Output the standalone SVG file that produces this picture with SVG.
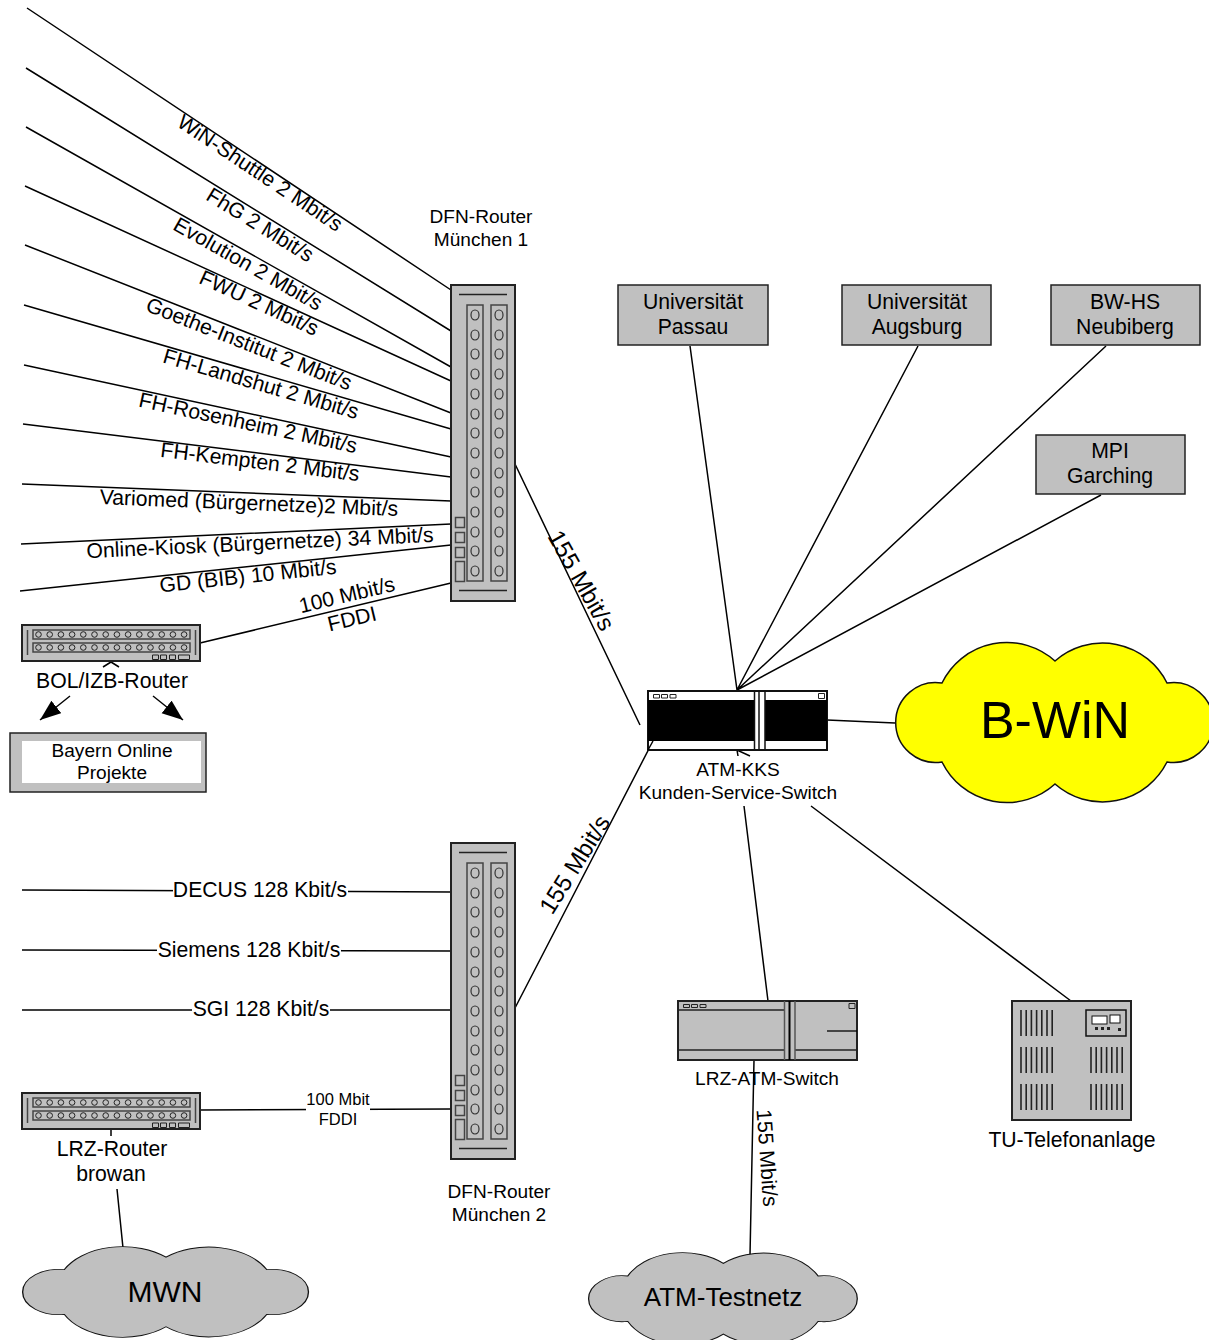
<svg xmlns="http://www.w3.org/2000/svg" xmlns:xlink="http://www.w3.org/1999/xlink" width="1209" height="1340" viewBox="0 0 1209 1340">
<style>
text{font-family:"Liberation Sans",Arial,sans-serif;fill:#000;text-anchor:middle;font-size:21.2px}
.s{font-size:19.100px}
.t{font-size:16.500px}
.ln{stroke:#000;stroke-width:1.500;fill:none}
.box{fill:#c0c0c0;stroke:#222;stroke-width:1.500}
.body{fill:#c0c0c0;stroke:#222;stroke-width:2}
.in{fill:none;stroke:#444;stroke-width:1.500}
.cl{stroke-width:1.500;stroke:#111;vector-effect:non-scaling-stroke}
.hl{fill:#fff;stroke:none}
</style>
<defs>
<marker id="ah" markerUnits="userSpaceOnUse" markerWidth="24" markerHeight="18" refX="21" refY="8" orient="auto"><path d="M0 0L21 8L0 16Z" fill="#000"/></marker>
<path id="cloud" d="M47 40A72 72 0 0 1 160 18A72 72 0 0 1 272 40A40 40 0 1 1 272 119A72 72 0 0 1 160 141A72 72 0 0 1 47 119A40 40 0 1 1 47 40Z"/>
<g id="col"><rect x="16" y="20" width="16" height="276" class="in"/>
<g fill="none" stroke="#333" stroke-width="1.200">
<ellipse cx="24" cy="30" rx="4" ry="5"/><ellipse cx="24" cy="50" rx="4" ry="5"/><ellipse cx="24" cy="69" rx="4" ry="5"/><ellipse cx="24" cy="89" rx="4" ry="5"/><ellipse cx="24" cy="109" rx="4" ry="5"/><ellipse cx="24" cy="129" rx="4" ry="5"/><ellipse cx="24" cy="148" rx="4" ry="5"/><ellipse cx="24" cy="168" rx="4" ry="5"/><ellipse cx="24" cy="188" rx="4" ry="5"/><ellipse cx="24" cy="207" rx="4" ry="5"/><ellipse cx="24" cy="227" rx="4" ry="5"/><ellipse cx="24" cy="247" rx="4" ry="5"/><ellipse cx="24" cy="266" rx="4" ry="5"/><ellipse cx="24" cy="286" rx="4" ry="5"/>
</g></g>
<g id="vrouter">
<rect x="0" y="0" width="64" height="316" class="body"/>
<path d="M8 9.500H56M8 305.500H56" stroke="#222" stroke-width="1.500"/>
<use href="#col"/><use href="#col" x="24"/>
<path d="M4.500 232.500h9v10h-9zM4.500 247.500h9v10h-9zM4.500 262.500h9v10h-9zM4.500 276.500h9v20h-9z" class="in"/>
</g>
<g id="row"><rect x="11" y="0" width="157" height="9" class="in"/>
<g fill="none" stroke="#222" stroke-width="1">
<circle cx="16.500" cy="4.500" r="2.800"/><circle cx="27.700" cy="4.500" r="2.800"/><circle cx="38.900" cy="4.500" r="2.800"/><circle cx="50.100" cy="4.500" r="2.800"/><circle cx="61.300" cy="4.500" r="2.800"/><circle cx="72.500" cy="4.500" r="2.800"/><circle cx="83.700" cy="4.500" r="2.800"/><circle cx="94.900" cy="4.500" r="2.800"/><circle cx="106.100" cy="4.500" r="2.800"/><circle cx="117.300" cy="4.500" r="2.800"/><circle cx="128.500" cy="4.500" r="2.800"/><circle cx="139.700" cy="4.500" r="2.800"/><circle cx="150.900" cy="4.500" r="2.800"/><circle cx="162.100" cy="4.500" r="2.800"/>
</g></g>
<g id="hrouter">
<rect x="0" y="0" width="178" height="36" class="body"/>
<path d="M5.500 5V30M173.500 5V30" stroke="#444" stroke-width="1.500"/>
<use href="#row" y="5"/><use href="#row" y="18"/>
<path d="M130.500 30h6v4.500h-6zM138.500 30h6v4.500h-6zM147.500 30h6v4.500h-6zM156.500 30h11v4.500h-11z" fill="none" stroke="#222" stroke-width="1"/>
</g>
<g id="vents"><path d="M0 0V26M5.200 0V26M10.400 0V26M15.600 0V26M20.800 0V26M26 0V26M31.200 0V26" stroke="#222" stroke-width="1.600" fill="none"/></g>
</defs>

<g id="connectors">
<path class="ln" d="M27 8L451 290M26 68L451 331M26 127L451 367M25 186L451 381M25 245L451 413M24 305L451 429M24 365L451 457M23 424L451 477M22 484L451 501M21 544L451 524M20 591L451 545M200 643L451 583"/>
<path class="ln" d="M22 890L451 892M22 950L451 951M22 1010L451 1010M200 1110L451 1109"/>
<path class="ln" d="M515 464L640 725M515 1008L653 741M690 346L737 690M918 346L737 690M1106 346L737 690M1101 495L737 690M827 720L895 723"/>
<path class="ln" d="M750 756L737 750L738 756M744 806L768 1001M811 806L1071 1001M754 1060L750 1255"/>
<path class="ln" d="M103 667L111 662L119 667M111 1129V1136M117 1189L123 1248"/>
<path class="ln" marker-end="url(#ah)" d="M70 696L40 720"/>
<path class="ln" marker-end="url(#ah)" d="M153 696L183 720"/>
</g>

<g id="router1"><use href="#vrouter" x="451" y="285"/><text class="s" x="481" y="223">DFN-Router</text><text class="s" x="481" y="246">München 1</text></g>
<g id="router2"><use href="#vrouter" x="451" y="843"/><text class="s" x="499" y="1198">DFN-Router</text><text class="s" x="499" y="1221">München 2</text></g>
<g id="bol-router"><use href="#hrouter" x="22" y="625"/><text x="112" y="688">BOL/IZB-Router</text></g>
<g id="lrz-router"><use href="#hrouter" x="22" y="1093"/><text x="112" y="1156">LRZ-Router</text><text x="111" y="1181">browan</text></g>
<g id="bayern-online"><rect x="10" y="733" width="196" height="59" class="box"/><rect x="22" y="741" width="179" height="42" class="hl"/><text class="s" x="112" y="757">Bayern Online</text><text class="s" x="112" y="779">Projekte</text></g>
<g id="passau"><rect x="618" y="285" width="150" height="60" class="box"/><text x="693" y="309">Universität</text><text x="693" y="334">Passau</text></g>
<g id="augsburg"><rect x="842" y="285" width="149" height="60" class="box"/><text x="917" y="309">Universität</text><text x="917" y="334">Augsburg</text></g>
<g id="neubiberg"><rect x="1051" y="285" width="149" height="60" class="box"/><text x="1125" y="309">BW-HS</text><text x="1125" y="334">Neubiberg</text></g>
<g id="garching"><rect x="1036" y="435" width="149" height="59" class="box"/><text x="1110" y="458">MPI</text><text x="1110" y="483">Garching</text></g>

<g id="atm-kks">
<rect x="648" y="691" width="179" height="59" fill="#fff" stroke="#111" stroke-width="2"/>
<rect x="648" y="700" width="106" height="41" fill="#000"/><rect x="765" y="700" width="62" height="41" fill="#000"/>
<path d="M754.500 691V750M759 691V750M765 691V750" stroke="#111" stroke-width="1.500"/>
<path d="M653.500 694.500h6v3.500h-6zM661.500 694.500h6v3.500h-6zM670 694.500h6v3.500h-6zM818.500 693.500h6v5h-6z" fill="none" stroke="#222"/>
<path class="ln" d="M648 750L653 741"/>
<text class="s" x="738" y="776">ATM-KKS</text><text class="s" x="738" y="799">Kunden-Service-Switch</text>
</g>
<g id="lrz-atm-switch">
<rect x="678" y="1001" width="179" height="59" fill="#c0c0c0" stroke="#222" stroke-width="2"/>
<path d="M678 1010H784M678 1050H784M795 1050H857" stroke="#222" stroke-width="1.300"/>
<path d="M784.500 1001V1060M795 1001V1060" stroke="#555" stroke-width="1.500"/><path d="M789.500 1001V1060" stroke="#000" stroke-width="2"/>
<path d="M827 1031H857" stroke="#000" stroke-width="1.300"/>
<path d="M683.500 1004.500h6v3h-6zM691.500 1004.500h6v3h-6zM700 1004.500h6v3h-6zM849 1003.500h6v5h-6z" fill="none" stroke="#222"/>
<text class="s" x="767" y="1085">LRZ-ATM-Switch</text>
</g>
<g id="tu-anlage">
<rect x="1012" y="1001" width="119" height="119" class="body"/>
<use href="#vents" x="1021" y="1010"/><use href="#vents" x="1021" y="1047"/><use href="#vents" x="1021" y="1084"/><use href="#vents" x="1091" y="1047"/><use href="#vents" x="1091" y="1084"/>
<rect x="1086" y="1010" width="40" height="26" fill="none" stroke="#111" stroke-width="1.500"/>
<rect x="1092" y="1016" width="15" height="8" fill="#fff" stroke="#111"/><rect x="1110" y="1015" width="10" height="8" fill="#fff" stroke="#111"/>
<path d="M1095 1027h3v3h-3zM1101 1027h3v3h-3zM1107 1027h3v3h-3zM1118 1028h3v3h-3z" fill="#222"/>
<text x="1072" y="1147">TU-Telefonanlage</text>
</g>
<g id="b-win"><use href="#cloud" class="cl" fill="#ff0" transform="translate(895 643)"/><text x="1055" y="738" style="font-size:52px">B-WiN</text></g>
<g id="mwn"><use href="#cloud" class="cl" fill="#c0c0c0" transform="translate(22 1247) scale(.9 .566)"/><text x="165" y="1302" style="font-size:30px">MWN</text></g>
<g id="atm-testnetz"><use href="#cloud" class="cl" fill="#c0c0c0" transform="translate(588 1253) scale(.846 .575)"/><text x="723" y="1306" style="font-size:26px">ATM-Testnetz</text></g>

<g id="labels">
<text transform="translate(260 173) rotate(33.600)" dy="7">WiN-Shuttle 2 Mbit/s</text>
<text transform="translate(260 225) rotate(31.700)" dy="7">FhG 2 Mbit/s</text>
<text transform="translate(248 264) rotate(29.500)" dy="7">Evolution 2 Mbit/s</text>
<text transform="translate(259 303) rotate(24.600)" dy="7">FWU 2 Mbit/s</text>
<text transform="translate(249 344) rotate(21.500)" dy="7">Goethe-Institut 2 Mbit/s</text>
<text transform="translate(261 384) rotate(16.300)" dy="7">FH-Landshut 2 Mbit/s</text>
<text transform="translate(248 423) rotate(12.100)" dy="7">FH-Rosenheim 2 Mbit/s</text>
<text transform="translate(260 462) rotate(7)" dy="7">FH-Kempten 2 Mbit/s</text>
<text transform="translate(249 503) rotate(2.300)" dy="7">Variomed (Bürgernetze)2 Mbit/s</text>
<text transform="translate(260 543) rotate(-2.700)" dy="7">Online-Kiosk (Bürgernetze) 34 Mbit/s</text>
<text transform="translate(248 576) rotate(-6.100)" dy="7">GD (BIB) 10 Mbit/s</text>
<text transform="translate(347 595) rotate(-13.400)" dy="7">100 Mbit/s</text>
<text transform="translate(352 619) rotate(-13.400)" dy="7">FDDI</text>
<text transform="translate(582 580) rotate(60.500)" dy="9" style="font-size:24px">155 Mbit/s</text>
<text transform="translate(574 864) rotate(-58)" dy="9" style="font-size:24px">155 Mbit/s</text>
<text transform="translate(766 1158) rotate(86)" dy="6">155 Mbit/s</text>
<rect x="173" y="878" width="175" height="24" class="hl"/><text x="260" y="897">DECUS 128 Kbit/s</text>
<rect x="157" y="938" width="184" height="24" class="hl"/><text x="249" y="957">Siemens 128 Kbit/s</text>
<rect x="192" y="998" width="138" height="24" class="hl"/><text x="261" y="1016">SGI 128 Kbit/s</text>
<rect x="306" y="1090" width="64" height="40" class="hl"/><text class="t" x="338" y="1105">100 Mbit</text><text class="t" x="338" y="1125">FDDI</text>
</g>
</svg>
